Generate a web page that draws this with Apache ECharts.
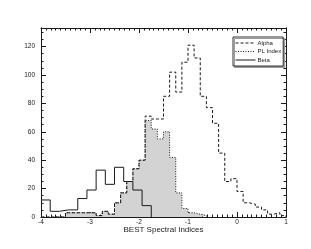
<!DOCTYPE html>
<html><head><meta charset="utf-8">
<script src="https://cdn.jsdelivr.net/npm/echarts@6/dist/echarts.min.js"></script>
<style>html,body{margin:0;padding:0;background:#fff}#c{width:311px;height:249px}</style>
</head><body><div id="c"></div>
<script>
// ---- data ----
const seriesNames = ['Alpha', 'PL Index', 'Beta'];
const alphaStart = -4, alphaBin = 0.125;
const alphaValues = [0,0,0,0,3,3,3,3,3,1,4,2,10,17,25,34,40,71,69,69,85,102,88,109,121,112,85,77,66,45,25,27,18,10,9,7,5,2,3,1];
const plStart = -4, plBin = 0.125;
const plValues = [0,0,0,0,3,3,3,3,3,1,4,2,10,17,25,34,40,68,62,55,60,42,17,6,3,2,1];
const betaStart = -4, betaBin = 0.1875;
const betaValues = [12,4,5,5,13,19,33,23,35,25,19,8];
const xTickLabels = ['-4','-3','-2','-1','0','1'];
const yTickLabels = ['0','20','40','60','80','100','120'];
const yMax = 133.1;

function steps(start, bin, vals) {
  const pts = vals.map((v, i) => [start + i * bin, v]);
  pts.push([start + vals.length * bin, 0]);
  return pts;
}

const xMin = Number(xTickLabels[0]), xMax = Number(xTickLabels[xTickLabels.length - 1]);
const yStep = Number(yTickLabels[1]) - Number(yTickLabels[0]);
const ink = '#1a1a1a';
const font = 'Liberation Sans';

function xAxisDef(pos, labels) {
  return {
    type: 'value', min: xMin, max: xMax, interval: 1, position: pos,
    axisLine: { onZero: false, lineStyle: { color: ink, width: 1 } },
    axisTick: { inside: true, length: 5, lineStyle: { color: ink } },
    minorTick: { show: true, splitNumber: 10, length: 2.5, lineStyle: { color: ink } },
    splitLine: { show: false }, minorSplitLine: { show: false },
    axisLabel: labels ? { show: true, fontSize: 6.5, color: ink, margin: 2, fontFamily: font,
      formatter: v => { const s = String(v); return xTickLabels.includes(s) ? s : ''; } } : { show: false },
    name: labels ? 'BEST Spectral Indices' : '',
    nameLocation: 'middle', nameGap: 9, nameMoveOverlap: false,
    nameTextStyle: { fontSize: 8, color: ink, fontFamily: font }
  };
}
function yAxisDef(pos, interval, len, labels) {
  return {
    type: 'value', min: 0, max: yMax, interval: interval, position: pos,
    axisLine: { show: true, onZero: false, lineStyle: { color: ink, width: 1 } },
    axisTick: { inside: true, length: len, lineStyle: { color: ink } },
    splitLine: { show: false },
    axisLabel: labels ? { show: true, fontSize: 6.5, color: ink, margin: 6, fontFamily: font, showMaxLabel: false,
      formatter: v => { const s = String(v); return yTickLabels.includes(s) ? s : ''; } } : { show: false }
  };
}

const chart = echarts.init(document.getElementById('c'), null, { renderer: 'canvas' });
chart.setOption({
  animation: false,
  backgroundColor: '#fff',
  grid: { left: 41, right: 25, top: 28, bottom: 32 },
  xAxis: [xAxisDef('bottom', true), xAxisDef('top', false)],
  yAxis: [
    yAxisDef('left', yStep, 5, true),
    yAxisDef('right', yStep, 5, false),
    yAxisDef('left', yStep / 4, 2.5, false),
    yAxisDef('right', yStep / 4, 2.5, false)
  ],
  legend: {
    orient: 'vertical', left: 233, top: 37, align: 'left',
    data: seriesNames,
    itemWidth: 20, itemHeight: 6, itemGap: 2.5,
    padding: [3, 2, 3, 2],
    borderColor: '#333', borderWidth: 1, backgroundColor: '#fff',
    shadowColor: '#999', shadowOffsetX: 1.5, shadowOffsetY: 1.5, shadowBlur: 0,
    itemStyle: { opacity: 0, borderWidth: 0 },
    lineStyle: { width: 1 },
    textStyle: { fontSize: 6, color: ink, fontFamily: font, padding: [0, 0, 0, -3] }
  },
  series: [
    {
      name: seriesNames[1], type: 'line', step: 'end', symbol: 'none', z: 2,
      data: steps(plStart, plBin, plValues),
      itemStyle: { color: ink },
      lineStyle: { color: ink, width: 1, type: [1, 1.5] },
      areaStyle: { color: '#d3d3d3', opacity: 1 }
    },
    {
      name: seriesNames[0], type: 'line', step: 'end', symbol: 'none', z: 3,
      data: steps(alphaStart, alphaBin, alphaValues),
      itemStyle: { color: ink },
      lineStyle: { color: ink, width: 1, type: [3, 2] }
    },
    {
      name: seriesNames[2], type: 'line', step: 'end', symbol: 'none', z: 4,
      data: steps(betaStart, betaBin, betaValues),
      itemStyle: { color: ink },
      lineStyle: { color: ink, width: 1, type: 'solid' }
    }
  ]
});
</script>
</body></html>
